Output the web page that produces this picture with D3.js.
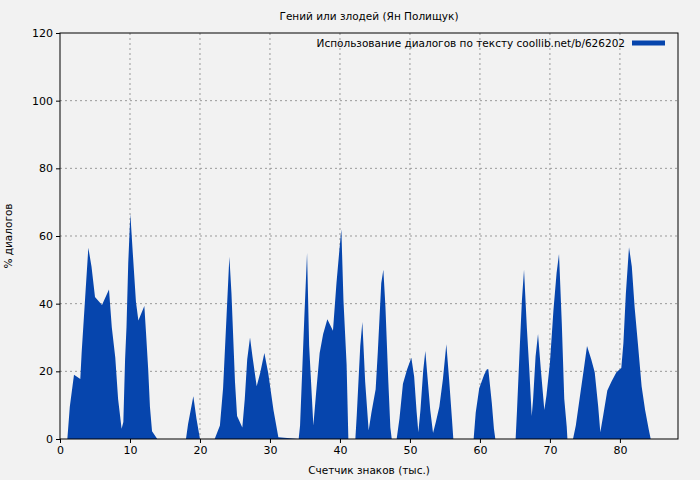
<!DOCTYPE html>
<html><head><meta charset="utf-8">
<script src="https://cdn.jsdelivr.net/npm/d3@7"></script>
<style>body{margin:0;background:#f2f2f2}text{font-family:"DejaVu Sans",sans-serif}</style>
</head><body><svg id="c" width="700" height="480"></svg>
<script>
const title = "Гений или злодей (Ян Полищук)";
const legendLabel = "Использование диалогов по тексту coollib.net/b/626202";
const xLabel = "Счетчик знаков (тыс.)";
const yLabel = "% диалогов";
const xTicks = [0,10,20,30,40,50,60,70,80];
const yTicks = [0,20,40,60,80,100,120];
const xs = [1.05,1.4,2.0,2.9,3.1,3.6,4.05,4.5,5.0,6.0,7.0,7.4,7.9,8.3,8.8,9.05,9.3,9.5,9.75,10.05,10.4,10.85,11.2,12.05,12.3,12.6,12.85,13.15,13.9,
 18.0,18.3,19.05,19.5,20.0,
 22.1,22.85,23.3,23.8,24.2,24.5,25.0,25.3,26.05,26.4,26.75,27.15,27.5,28.1,28.6,29.2,29.75,30.5,31.2,
 34.1,34.3,34.6,34.9,35.3,35.6,36.0,36.2,36.6,37.1,37.6,38.2,39.0,39.5,39.9,40.2,40.5,40.95,41.2,
 42.2,42.4,42.9,43.2,43.6,44.1,44.5,45.1,45.4,45.9,46.2,46.5,46.9,47.2,47.4,
 48.1,48.5,49.0,49.6,50.2,50.6,50.95,51.2,51.5,51.9,52.2,52.5,52.9,53.3,53.7,54.2,54.7,55.2,55.6,56.0,56.2,
 59.1,59.4,59.9,60.6,61.0,61.2,61.7,62.0,62.2,
 65.1,65.3,65.7,66.0,66.3,66.7,67.05,67.4,67.6,67.95,68.3,68.7,69.2,69.5,70.0,70.5,70.95,71.3,71.7,72.05,72.4,72.5,
 73.3,73.7,74.3,74.9,75.3,75.9,76.4,76.9,77.2,77.6,78.2,78.8,79.5,80.2,80.5,80.85,81.3,81.7,82.1,82.6,83.1,83.6,84.1,84.4];
const ys = [0,9.5,19,17.7,25.8,42,56.5,51,42,39.6,44.2,33,24,11.8,3,5,23.6,33,52,66.5,55,40.6,35,39.3,31,20.6,9.5,2.3,0,
 0,4.4,12.6,6,0,
 0,4,15,36.5,53.9,43,17,6.8,3.4,11.8,23.6,30,24.4,15.6,19.5,25.4,19.5,8.6,0.5,
 0,4,19.7,35.5,55,27.5,11.8,4,13.8,25.4,31,35.4,32,46,55.4,62,41,22,0,
 0,7,27.5,34.6,17,2.5,7.8,14.7,25.4,46,50,39,17.5,3.4,0,
 0,6,16.3,20.6,24,18.5,8.1,2,8.6,20.3,26,18.5,8.6,1.8,5,9.5,17.5,28,17.5,6,0,
 0,7.8,15,19,20.6,20.6,10.6,3,0,
 0,8.6,27.5,41,50,33,20.6,6.8,11.8,24.4,31,20.6,8.6,12.8,22.5,38,49,54.7,34,11.8,3.7,0,
 0,4,12.8,21.5,27.5,23.6,19.7,9.5,2,6.8,14.3,17,19.7,21,28.4,43,56.7,51,39,27.5,15.6,8.6,3,0];

const svg = d3.select("#c");
const m = {l:60,r:678,t:33,b:439};
const x = d3.scaleLinear().domain([0,88.3]).range([m.l,m.r]);
const y = d3.scaleLinear().domain([0,120]).range([m.b,m.t]);
const color = "#0645ad";

// grid
svg.append("g").selectAll("line").data(xTicks.slice(1)).join("line")
 .attr("x1",d=>x(d)).attr("x2",d=>x(d)).attr("y1",m.t).attr("y2",m.b)
 .attr("stroke","#999").attr("stroke-dasharray","2,3");
svg.append("g").selectAll("line").data(yTicks.slice(1,-1)).join("line")
 .attr("y1",d=>y(d)).attr("y2",d=>y(d)).attr("x1",m.l).attr("x2",m.r)
 .attr("stroke","#999").attr("stroke-dasharray","2,3");

const pts = xs.map((v,i)=>[v,ys[i]]);
svg.append("path").datum(pts)
 .attr("d",d3.area().x(d=>x(d[0])).y0(y(0)).y1(d=>y(d[1])))
 .attr("fill",color);

svg.append("rect").attr("x",m.l).attr("y",m.t).attr("width",m.r-m.l).attr("height",m.b-m.t)
 .attr("fill","none").attr("stroke","#000");

const xa = svg.append("g").attr("transform",`translate(0,${m.b})`)
 .call(d3.axisBottom(x).tickValues(xTicks).tickSize(4).tickPadding(3));
const ya = svg.append("g").attr("transform",`translate(${m.l},0)`)
 .call(d3.axisLeft(y).tickValues(yTicks).tickSize(4).tickPadding(3));
[xa,ya].forEach(a=>{a.select(".domain").remove();a.selectAll("text").attr("font-size",11).attr("fill","#000").style("font-family","DejaVu Sans");});

svg.append("text").attr("x",369).attr("y",20).attr("text-anchor","middle").attr("font-size",10.5).text(title);
svg.append("text").attr("x",369).attr("y",474).attr("text-anchor","middle").attr("font-size",10.5).text(xLabel);
svg.append("text").attr("transform","translate(12,236) rotate(-90)").attr("text-anchor","middle").attr("font-size",10.5).text(yLabel);
svg.append("text").attr("x",625).attr("y",47).attr("text-anchor","end").attr("font-size",10.5).text(legendLabel);
svg.append("line").attr("x1",632).attr("x2",665).attr("y1",43).attr("y2",43).attr("stroke",color).attr("stroke-width",5);
</script></body></html>
